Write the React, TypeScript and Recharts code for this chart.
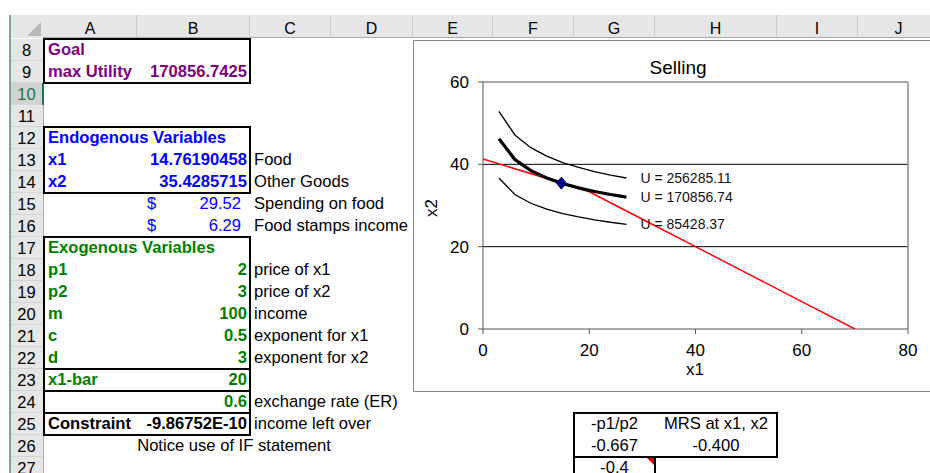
import React from 'react';
import { ComposedChart, Scatter, XAxis, YAxis, ReferenceLine } from 'recharts';

// ---------- chart data ----------
const x1Grid = [3, 6, 9, 12, 15, 18, 21, 24, 27];
const uHighX2 = [52.89, 47.13, 44.05, 41.98, 40.44, 39.24, 38.24, 37.4, 36.68];
const uMidX2 = [46.2, 41.17, 38.48, 36.67, 35.33, 34.28, 33.41, 32.67, 32.04];
const uLowX2 = [36.67, 32.68, 30.54, 29.1, 28.04, 27.21, 26.52, 25.93, 25.43];
const budgetX1 = [0, 10, 20, 30, 40, 50, 60, 70];
const budgetX2 = [41.33, 37.33, 33.33, 26.67, 20, 13.33, 6.67, 0];
const optimumX1 = [14.76];
const optimumX2 = [35.43];
const curveLabels = ['U = 256285.11', 'U = 170856.74', 'U = 85428.37'];
const xTicks = [0, 20, 40, 60, 80];
const yTicks = [0, 20, 40, 60];
const chartTitle = 'Selling';
const xTitle = 'x1';
const yTitle = 'x2';

// ---------- sheet data ----------
const columnLetters = ['A', 'B', 'C', 'D', 'E', 'F', 'G', 'H', 'I', 'J'];
const columnEdges = [44, 137, 250, 331, 413, 493, 574, 655, 777, 858, 940];
const rowNumbers = [8, 9, 10, 11, 12, 13, 14, 15, 16, 17, 18, 19, 20, 21, 22, 23, 24, 25, 26, 27];

const PURPLE = '#800080';
const BLUE = '#0000FF';
const GREEN = '#008000';
const BLACK = '#000000';

type Align = 'l' | 'r' | 'c' | 'acc';
const sheetCells: [string, number, string, Align, string, boolean][] = [
  ['A', 8, 'Goal', 'l', PURPLE, true],
  ['A', 9, 'max Utility', 'l', PURPLE, true],
  ['B', 9, '170856.7425', 'r', PURPLE, true],
  ['A', 12, 'Endogenous Variables', 'l', BLUE, true],
  ['A', 13, 'x1', 'l', BLUE, true],
  ['B', 13, '14.76190458', 'r', BLUE, true],
  ['C', 13, 'Food', 'l', BLACK, false],
  ['A', 14, 'x2', 'l', BLUE, true],
  ['B', 14, '35.4285715', 'r', BLUE, true],
  ['C', 14, 'Other Goods', 'l', BLACK, false],
  ['B', 15, '29.52', 'acc', BLUE, false],
  ['C', 15, 'Spending on food', 'l', BLACK, false],
  ['B', 16, '6.29', 'acc', BLUE, false],
  ['C', 16, 'Food stamps income', 'l', BLACK, false],
  ['A', 17, 'Exogenous Variables', 'l', GREEN, true],
  ['A', 18, 'p1', 'l', GREEN, true],
  ['B', 18, '2', 'r', GREEN, true],
  ['C', 18, 'price of x1', 'l', BLACK, false],
  ['A', 19, 'p2', 'l', GREEN, true],
  ['B', 19, '3', 'r', GREEN, true],
  ['C', 19, 'price of x2', 'l', BLACK, false],
  ['A', 20, 'm', 'l', GREEN, true],
  ['B', 20, '100', 'r', GREEN, true],
  ['C', 20, 'income', 'l', BLACK, false],
  ['A', 21, 'c', 'l', GREEN, true],
  ['B', 21, '0.5', 'r', GREEN, true],
  ['C', 21, 'exponent for x1', 'l', BLACK, false],
  ['A', 22, 'd', 'l', GREEN, true],
  ['B', 22, '3', 'r', GREEN, true],
  ['C', 22, 'exponent for x2', 'l', BLACK, false],
  ['A', 23, 'x1-bar', 'l', GREEN, true],
  ['B', 23, '20', 'r', GREEN, true],
  ['B', 24, '0.6', 'r', GREEN, true],
  ['C', 24, 'exchange rate (ER)', 'l', BLACK, false],
  ['A', 25, 'Constraint', 'l', BLACK, true],
  ['B', 25, '-9.86752E-10', 'r', BLACK, true],
  ['C', 25, 'income left over', 'l', BLACK, false],
  ['G', 25, '-p1/p2', 'c', BLACK, false],
  ['H', 25, 'MRS at x1, x2', 'c', BLACK, false],
  ['G', 26, '-0.667', 'c', BLACK, false],
  ['H', 26, '-0.400', 'c', BLACK, false],
  ['G', 27, '-0.4', 'c', BLACK, false],
];
const noteText = 'Notice use of IF statement';
const noteRow = 26;

// boxes: [colFrom, rowFrom, colTo, rowTo, openBottom]
const boxes: [string, number, string, number, boolean][] = [
  ['A', 8, 'B', 9, false],
  ['A', 12, 'B', 14, false],
  ['A', 17, 'B', 22, false],
  ['A', 23, 'B', 23, false],
  ['A', 24, 'B', 24, false],
  ['A', 25, 'B', 25, false],
  ['G', 25, 'H', 26, false],
  ['G', 27, 'G', 28, true],
];

const FONT = '"Liberation Sans", Arial, Helvetica, sans-serif';
const CELL_FONT = 16.6;
const rowTop = (r: number) => 39 + (r - 8) * 22;
const colStart = (c: string) => columnEdges[columnLetters.indexOf(c)];
const colEnd = (c: string) => columnEdges[columnLetters.indexOf(c) + 1];

const toPoints = (xs: number[], ys: number[]) => xs.map((x, i) => ({ x, y: ys[i] }));

const makeCurveShape = (label: string, lastX: number) => (props: any) => {
  if (props && props.payload && props.payload.x === lastX) {
    return (
      <text x={props.cx + 14} y={props.cy} dy="0.36em" fontSize={14} fill="#111" fontFamily={FONT}>
        {label}
      </text>
    );
  }
  return <g />;
};

const diamondShape = (props: any) => {
  const { cx, cy } = props;
  return (
    <polygon
      points={`${cx},${cy - 6} ${cx + 5},${cy} ${cx},${cy + 6} ${cx - 5},${cy}`}
      fill="#000080"
      stroke="#000080"
      strokeWidth={1}
    />
  );
};

function SheetCell({ c }: { c: [string, number, string, Align, string, boolean] }) {
  const [col, row, text, align, color, bold] = c;
  const left = colStart(col);
  const width = colEnd(col) - left;
  const base: React.CSSProperties = {
    position: 'absolute',
    left,
    top: rowTop(row),
    width,
    height: 22,
    lineHeight: '22px',
    fontSize: CELL_FONT,
    color,
    fontWeight: bold ? 'bold' : 'normal',
    whiteSpace: 'nowrap',
    boxSizing: 'border-box',
  };
  if (align === 'acc') {
    return (
      <div style={base}>
        <span style={{ position: 'absolute', left: 10 }}>$</span>
        <span style={{ position: 'absolute', right: 9 }}>{text}</span>
      </div>
    );
  }
  if (align === 'r') {
    return <div style={{ ...base, textAlign: 'right', paddingRight: 3 }}>{text}</div>;
  }
  if (align === 'c') {
    return <div style={{ ...base, textAlign: 'center' }}>{text}</div>;
  }
  return <div style={{ ...base, paddingLeft: 4 }}>{text}</div>;
}

export default function App() {
  const curves = [
    { data: toPoints(x1Grid, uHighX2), width: 1.3, label: curveLabels[0] },
    { data: toPoints(x1Grid, uMidX2), width: 3.2, label: curveLabels[1] },
    { data: toPoints(x1Grid, uLowX2), width: 1.3, label: curveLabels[2] },
  ];
  const budget = toPoints(budgetX1, budgetX2);
  const optimum = toPoints(optimumX1, optimumX2);
  const lastX = x1Grid[x1Grid.length - 1];

  return (
    <div
      style={{
        position: 'absolute',
        left: 0,
        top: 0,
        width: 930,
        height: 473,
        overflow: 'hidden',
        background: '#fff',
        fontFamily: FONT,
        color: '#000',
      }}
    >
      {/* column header band */}
      <div style={{ position: 'absolute', left: 10, top: 15, width: 930, height: 23, background: '#e6e6e6', borderBottom: '1px solid #ababab', boxSizing: 'border-box' }} />
      {columnLetters.map((l, i) => (
        <div
          key={l}
          style={{
            position: 'absolute',
            left: columnEdges[i],
            top: 15,
            width: columnEdges[i + 1] - columnEdges[i],
            height: 23,
            lineHeight: '23px',
            paddingTop: 2,
            textAlign: 'center',
            fontSize: 16,
            borderRight: '1px solid #c9c9c9',
            boxSizing: 'border-box',
          }}
        >
          {l}
        </div>
      ))}
      {/* corner */}
      <div style={{ position: 'absolute', left: 10, top: 15, width: 33, height: 23, background: '#e6e6e6' }}>
        <svg width={33} height={23} style={{ position: 'absolute', left: 0, top: 0 }}>
          <polygon points="31,7 31,21 17,21" fill="#b9b9b9" />
        </svg>
      </div>
      {/* row headers */}
      {rowNumbers.map((r) => (
        <div
          key={r}
          style={{
            position: 'absolute',
            left: 10,
            top: rowTop(r),
            width: 33,
            height: 22,
            lineHeight: '22px',
            textAlign: 'center',
            fontSize: 16.5,
            background: r === 10 ? '#d2d2d2' : '#e6e6e6',
            color: r === 10 ? '#217346' : '#000',
            borderBottom: '1px solid #d4d4d4',
            boxSizing: 'border-box',
          }}
        >
          {r}
        </div>
      ))}
      <div style={{ position: 'absolute', left: 43, top: 38, width: 1, height: 440, background: '#ababab' }} />
      <div style={{ position: 'absolute', left: 42, top: rowTop(10), width: 2, height: 22, background: '#217346' }} />
      <div style={{ position: 'absolute', left: 9, top: 15, width: 2, height: 460, background: '#7fa58c' }} />

      {/* cells */}
      {sheetCells.map((c, i) => (
        <SheetCell key={i} c={c} />
      ))}
      <div
        style={{
          position: 'absolute',
          left: colStart('B'),
          top: rowTop(noteRow),
          width: colEnd('C') - colStart('B'),
          height: 22,
          lineHeight: '22px',
          fontSize: CELL_FONT,
          textAlign: 'center',
          whiteSpace: 'nowrap',
        }}
      >
        {noteText}
      </div>

      {/* borders */}
      {boxes.map(([c1, r1, c2, r2, open], i) => (
        <div
          key={i}
          style={{
            position: 'absolute',
            left: colStart(c1) - 1,
            top: rowTop(r1) - 1,
            width: colEnd(c2) - colStart(c1) + 2,
            height: rowTop(r2 + 1) - rowTop(r1) + 2,
            border: '2px solid #000',
            borderBottom: open ? 'none' : '2px solid #000',
            boxSizing: 'border-box',
          }}
        />
      ))}
      {/* comment marker */}
      <svg width={10} height={10} style={{ position: 'absolute', left: colEnd('G') - 9, top: rowTop(27) + 1 }}>
        <polygon points="1,0 8,0 8,7" fill="#e00000" />
      </svg>

      {/* chart object */}
      <div
        style={{
          position: 'absolute',
          left: 413,
          top: 40,
          width: 530,
          height: 352,
          border: '1px solid #8a8a8a',
          background: '#fff',
          boxSizing: 'border-box',
        }}
      >
        <div style={{ position: 'absolute', left: 0, top: 0 }}>
          <ComposedChart width={517} height={349} margin={{ top: 41, right: 23, left: 0, bottom: 21 }}>
            <XAxis
              type="number"
              dataKey="x"
              domain={[0, 80]}
              ticks={xTicks}
              interval={0}
              height={40}
              tickSize={5}
              tickMargin={10}
              axisLine={{ stroke: '#555' }}
              tickLine={{ stroke: '#555' }}
              tick={{ fill: '#000', fontSize: 17, fontFamily: FONT }}
              allowDataOverflow
            />
            <YAxis
              type="number"
              dataKey="y"
              domain={[0, 60]}
              ticks={yTicks}
              interval={0}
              width={69}
              tickSize={5}
              tickMargin={9}
              axisLine={{ stroke: '#555' }}
              tickLine={{ stroke: '#555' }}
              tick={{ fill: '#000', fontSize: 17, fontFamily: FONT }}
              allowDataOverflow
            />
            <ReferenceLine y={20} stroke="#000" strokeWidth={1} />
            <ReferenceLine y={40} stroke="#000" strokeWidth={1} />
            <ReferenceLine y={60} stroke="#8a8a8a" strokeWidth={1.5} />
            <ReferenceLine x={80} stroke="#8a8a8a" strokeWidth={1.5} />
            <Scatter
              data={budget}
              line={{ stroke: '#ff0000', strokeWidth: 1.5 }}
              shape={() => <g />}
              isAnimationActive={false}
            />
            {curves.map((cv, i) => (
              <Scatter
                key={i}
                data={cv.data}
                line={{ stroke: '#000', strokeWidth: cv.width, fill: 'none' }}
                shape={makeCurveShape(cv.label, lastX)}
                isAnimationActive={false}
              />
            ))}
            <Scatter data={optimum} shape={diamondShape} isAnimationActive={false} />
          </ComposedChart>
        </div>
      </div>
      {/* chart titles */}
      <div style={{ position: 'absolute', left: 678, top: 68, transform: 'translate(-50%, -50%)', fontSize: 19, whiteSpace: 'nowrap' }}>
        {chartTitle}
      </div>
      <div style={{ position: 'absolute', left: 695, top: 370, transform: 'translate(-50%, -50%)', fontSize: 17, whiteSpace: 'nowrap' }}>
        {xTitle}
      </div>
      <div style={{ position: 'absolute', left: 432, top: 208, transform: 'translate(-50%, -50%) rotate(-90deg)', fontSize: 17, whiteSpace: 'nowrap' }}>
        {yTitle}
      </div>
    </div>
  );
}
